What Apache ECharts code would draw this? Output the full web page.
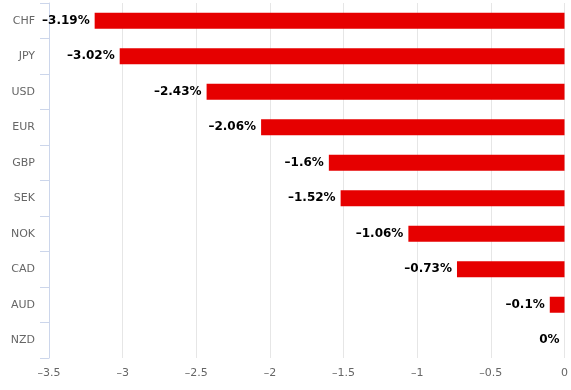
<!DOCTYPE html>
<html><head><meta charset="utf-8">
<script src="https://cdn.jsdelivr.net/npm/echarts@6/dist/echarts.min.js"></script>
<style>html,body{margin:0;padding:0;background:#fff}#c{width:571px;height:390px}</style>
</head><body><div id="c"></div>
<script>
const categories = ['CHF','JPY','USD','EUR','GBP','SEK','NOK','CAD','AUD','NZD'];
const values = [-3.19,-3.02,-2.43,-2.06,-1.6,-1.52,-1.06,-0.73,-0.1,0];
const xMin = -3.5, xMax = 0, xStep = 0.5;

function fmt(v){ return (v<0?'\u2013':'') + Math.abs(v); }

const chart = echarts.init(document.getElementById('c'), null, {renderer:'canvas'});
chart.setOption({
  animation:false,
  grid:{left:49,right:5,top:3,bottom:32,containLabel:false},
  xAxis:{type:'value',min:xMin,max:xMax,interval:xStep,
    axisLine:{show:false},axisTick:{show:false},
    splitLine:{lineStyle:{color:'#e6e6e6',width:1}},
    axisLabel:{color:'#666',fontSize:11,fontFamily:'DejaVu Sans',margin:10,formatter:v=>fmt(v)}},
  yAxis:{type:'category',data:categories,inverse:true,
    axisLine:{onZero:false,lineStyle:{color:'#ccd6eb'}},
    axisTick:{show:true,length:9,lineStyle:{color:'#ccd6eb'}},
    axisLabel:{color:'#666',fontSize:11,fontFamily:'DejaVu Sans',margin:14}},
  series:[{type:'bar',data:values,barWidth:16,itemStyle:{color:'#e60000'},
    label:{show:true,position:'left',distance:5,color:'#000',fontWeight:'bold',fontSize:12,fontFamily:'DejaVu Sans',
      formatter:p=>fmt(p.value)+'%'}}]
});
</script></body></html>
